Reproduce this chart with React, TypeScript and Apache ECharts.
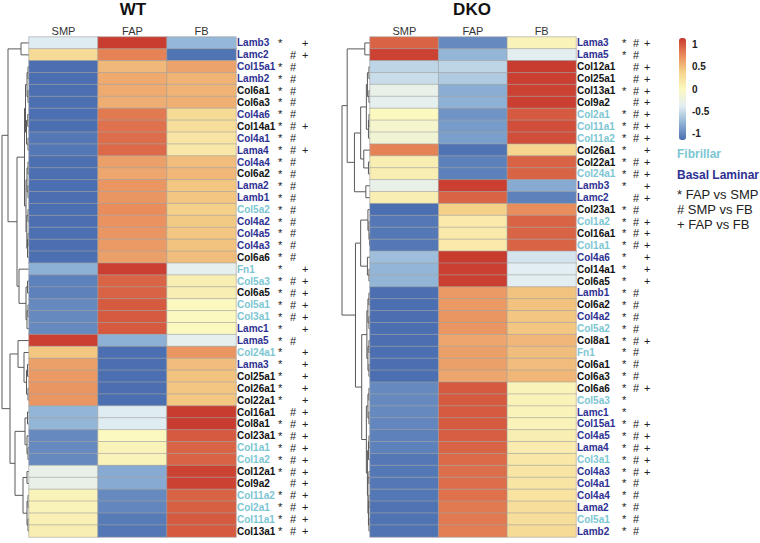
import React, { useEffect, useRef } from 'react';
import * as echarts from 'echarts';

const columns = ['SMP', 'FAP', 'FB'];

const wtGenes = ['Lamb3','Lamc2','Col15a1','Lamb2','Col6a1','Col6a3','Col4a6','Col14a1','Col4a1','Lama4','Col4a4','Col6a2','Lama2','Lamb1','Col5a2','Col4a2','Col4a5','Col4a3','Col6a6','Fn1','Col5a3','Col6a5','Col5a1','Col3a1','Lamc1','Lama5','Col24a1','Lama3','Col25a1','Col26a1','Col22a1','Col16a1','Col8a1','Col23a1','Col1a1','Col1a2','Col12a1','Col9a2','Col11a2','Col2a1','Col11a1','Col13a1'];
const wtSMP = [-0.40, 0.30, -1.15, -1.15, -1.15, -1.15, -1.15, -1.15, -1.10, -1.10, -1.15, -1.15, -1.15, -1.15, -1.15, -1.15, -1.15, -1.15, -1.15, -0.78, -1.05, -1.05, -1.00, -1.00, -1.00, 1.13, 0.45, 0.65, 0.68, 0.70, 0.70, -0.75, -0.75, -1.00, -1.00, -1.00, -0.30, -0.30, 0.05, 0.05, 0.08, 0.10];
const wtFAP = [1.14, 0.80, 0.52, 0.60, 0.60, 0.58, 0.85, 0.88, 0.90, 0.92, 0.65, 0.62, 0.70, 0.70, 0.75, 0.72, 0.70, 0.68, 0.65, 1.13, 0.95, 0.95, 1.00, 1.00, 1.00, -0.78, -1.15, -1.15, -1.15, -1.15, -1.15, -0.40, -0.40, 0.00, 0.05, 0.05, -0.82, -0.82, -1.00, -1.02, -1.08, -1.10];
const wtFB = [-0.74, -1.12, 0.63, 0.55, 0.55, 0.57, 0.30, 0.27, 0.20, 0.18, 0.50, 0.53, 0.45, 0.45, 0.40, 0.43, 0.45, 0.47, 0.50, -0.35, 0.10, 0.10, 0.00, 0.00, 0.00, -0.35, 0.70, 0.50, 0.47, 0.45, 0.45, 1.15, 1.15, 1.00, 0.95, 0.95, 1.12, 1.12, 0.95, 0.97, 1.00, 1.00];
const wtMarks = ['* +',' #+','*# ','*# ','*# ','*# ','*# ','*#+','*# ','*#+','*# ','*# ','*# ','*# ','*# ','*# ','*# ','*# ','*# ','* +','*#+','*#+','*#+','*#+','* +','*# ','* +','* +','* +','* +','* +',' #+','*#+','*#+','*#+','*#+','*#+',' #+','*#+','*#+','*#+','*#+'];

const dkoGenes = ['Lama3','Lama5','Col12a1','Col25a1','Col13a1','Col9a2','Col2a1','Col11a1','Col11a2','Col26a1','Col22a1','Col24a1','Lamb3','Lamc2','Col23a1','Col1a2','Col16a1','Col1a1','Col4a6','Col14a1','Col6a5','Lamb1','Col6a2','Col4a2','Col5a2','Col8a1','Fn1','Col6a1','Col6a3','Col6a6','Col5a3','Lamc1','Col15a1','Col4a5','Lama4','Col3a1','Col4a3','Col4a1','Col4a4','Lama2','Col5a1','Lamb2'];
const dkoSMP = [0.95, 1.12, -0.55, -0.50, -0.30, -0.35, 0.00, -0.10, -0.15, 0.80, 0.10, 0.10, -0.30, 0.10, -1.15, -1.10, -1.10, -1.10, -0.70, -0.75, -0.75, -1.15, -1.15, -1.15, -1.15, -1.15, -1.15, -1.15, -1.15, -1.00, -1.00, -1.00, -1.02, -1.05, -1.05, -1.10, -1.10, -1.10, -1.10, -1.12, -1.12, -1.12];
const dkoFAP = [-1.00, -0.75, -0.55, -0.62, -0.80, -0.78, -0.95, -0.90, -0.88, -1.12, -1.05, -1.05, 1.13, 0.95, 0.40, 0.15, 0.15, 0.15, 1.15, 1.13, 1.13, 0.68, 0.68, 0.70, 0.70, 0.62, 0.65, 0.65, 0.62, 1.00, 1.00, 1.00, 1.00, 0.98, 0.95, 0.92, 0.90, 0.90, 0.88, 0.85, 0.85, 0.83];
const dkoFB = [0.05, -0.37, 1.15, 1.13, 1.12, 1.13, 1.00, 1.05, 1.05, 0.35, 0.95, 0.95, -0.82, -1.05, 0.75, 0.95, 0.95, 0.95, -0.45, -0.38, -0.38, 0.47, 0.47, 0.45, 0.45, 0.53, 0.50, 0.50, 0.53, 0.05, 0.05, 0.05, 0.05, 0.10, 0.13, 0.18, 0.20, 0.20, 0.22, 0.27, 0.27, 0.30];
const dkoMarks = ['*#+','*# ',' #+',' #+','*#+',' #+','*#+','*#+','*#+','* +','*#+','*#+','* +',' #+','*# ','*#+','*#+','*#+','* +','* +','* +','*# ','*# ','*# ','*# ','*#+','*# ','*# ','*# ','*#+','*  ','*  ','*#+','*#+','*#+','*#+','*#+','*# ','*# ','*# ','*# ','*# '];

const fibrillarGenes = ['Col1a1','Col1a2','Col2a1','Col3a1','Col5a1','Col5a2','Col5a3','Col11a1','Col11a2','Col24a1','Fn1'];
const basalGenes = ['Lama2','Lama3','Lama4','Lama5','Lamb1','Lamb2','Lamb3','Lamc1','Lamc2','Col4a1','Col4a2','Col4a3','Col4a4','Col4a5','Col4a6','Col15a1'];

const legendTicks = [1, 0.5, 0, -0.5, -1];
const legendNotes = ['* FAP vs SMP', '# SMP vs FB', '+ FAP vs FB'];

type Node = number | [Node, Node, number];

const wtTree: Node = [
  [
    [0, 1, 8],
    [
      [
        [[[2, 3, 1], [4, 5, 1], 2], [[6, 7, 1.2], [8, 9, 1], 2.5], 3.5],
        [[[10, 11, 1], [12, 13, 1], 2], [[14, 15, 1], [[16, 17, 1], 18, 1.5], 2.2], 3],
        4.5,
      ],
      [19, [[20, 21, 1.5], [[22, 23, 1], 24, 2], 3], 10],
      12,
    ],
    21,
  ],
  [
    [25, [26, [[27, 28, 1.5], [29, 30, 1], 2.5], 5], 11],
    [
      [[31, 32, 1.5], [33, [34, 35, 1], 2], 4],
      [[36, 37, 2], [[38, 39, 1], [40, 41, 1], 2], 6],
      14,
    ],
    19,
  ],
  27,
];

const dkoTree: Node = [
  [
    [0, 1, 5],
    [
      [[[[2, 3, 1], [4, 5, 1], 2.5], [[6, 7, 1], 8, 1.5], 3.5], [9, [10, 11, 1.5], 6], 9],
      [12, 13, 4],
      15,
    ],
    22,
  ],
  [
    [[14, [15, [16, 17, 0.5], 1], 2], [18, [19, 20, 1], 2.5], 9],
    [
      [[[21, 22, 1], [23, 24, 1], 2], [[25, 26, 1], [27, 28, 1], 2], 3],
      [[[29, 30, 1], [31, 32, 1], 2], [[[33, 34, 1], 35, 1.5], [[36, 37, 1], [[38, 39, 1], [40, 41, 1], 1.5], 2], 2.5], 3.5],
      8,
    ],
    14,
  ],
  27,
];

function treeSegments(node: Node, out: number[][]): { y: number; h: number } {
  if (typeof node === 'number') return { y: node, h: 0 };
  const a = treeSegments(node[0], out);
  const b = treeSegments(node[1], out);
  const h = node[2];
  out.push([a.h, a.y, h, a.y]);
  out.push([b.h, b.y, h, b.y]);
  out.push([h, a.y, h, b.y]);
  return { y: (a.y + b.y) / 2, h };
}

const FONT = 'Liberation Sans, Arial, Helvetica, sans-serif';
const ZMAX = 1.1547;
const palette = ['#4a6eb0', '#8fb3d6', '#e2eef3', '#fbf8c0', '#f5d38a', '#e8895a', '#c83a2e'];

function heatData(smp: number[], fap: number[], fb: number[]) {
  const d: number[][] = [];
  smp.forEach((v, i) => d.push([0, i, v]));
  fap.forEach((v, i) => d.push([1, i, v]));
  fb.forEach((v, i) => d.push([2, i, v]));
  return d;
}

function labelFormatter(marks: string[]) {
  return (name: string, idx: number) => {
    const cls = fibrillarGenes.includes(name) ? 'f' : basalGenes.includes(name) ? 'b' : 'o';
    const m = marks[idx] || '   ';
    const s = (c: string) => (c === ' ' ? '\u00a0' : c);
    return `{${cls}|${name}}{m|${s(m[0])}}{m|${s(m[1])}}{m|${s(m[2])}}`;
  };
}

function richFor(nameWidth: number, markWidth: number) {
  const base = { fontFamily: FONT, fontSize: 10, fontWeight: 'bold' as const, width: nameWidth, align: 'left' as const };
  return {
    f: { ...base, color: '#7cc6d2' },
    b: { ...base, color: '#2e3192' },
    o: { ...base, color: '#111111' },
    m: { fontFamily: FONT, fontSize: 11, color: '#222222', width: markWidth, align: 'left' as const },
  };
}

export default function App() {
  const ref = useRef<HTMLDivElement>(null);
  useEffect(() => {
    if (!ref.current) return;
    const chart = echarts.init(ref.current, undefined, { renderer: 'svg' });
    const wtSegs: number[][] = [];
    treeSegments(wtTree, wtSegs);
    const dkoSegs: number[][] = [];
    treeSegments(dkoTree, dkoSegs);

    const HTOP = 37;
    const HH = 500;
    const grids = [
      { left: 2, top: HTOP, width: 27, height: HH },
      { left: 29, top: HTOP, width: 207, height: HH },
      { left: 342, top: HTOP, width: 28, height: HH },
      { left: 370, top: HTOP, width: 206, height: HH },
    ];
    const nRows = wtGenes.length;

    const dendroX = (gi: number) => ({
      type: 'value' as const, gridIndex: gi, min: 0, max: 27, inverse: true, show: false,
    });
    const dendroY = (gi: number) => ({
      type: 'value' as const, gridIndex: gi, min: -0.5, max: nRows - 0.5, inverse: true, show: false,
    });
    const heatX = (gi: number) => ({
      type: 'category' as const, gridIndex: gi, data: columns, position: 'top' as const,
      axisLine: { show: false }, axisTick: { show: false }, splitArea: { show: false },
      axisLabel: { fontFamily: FONT, fontSize: 11, color: '#333', margin: 1 },
    });
    const heatY = (gi: number, genes: string[], marks: string[], nw: number, mw: number) => ({
      type: 'category' as const, gridIndex: gi, data: genes, inverse: true, position: 'right' as const,
      axisLine: { show: false }, axisTick: { show: false }, splitArea: { show: false },
      axisLabel: { interval: 0, margin: 1, formatter: labelFormatter(marks), rich: richFor(nw, mw) },
    });

    const renderSeg = (params: any, api: any) => {
      const p1 = api.coord([api.value(0), api.value(1)]);
      const p2 = api.coord([api.value(2), api.value(3)]);
      return {
        type: 'line',
        shape: { x1: p1[0], y1: p1[1], x2: p2[0], y2: p2[1] },
        style: { stroke: '#5a5a5a', lineWidth: 1 },
      };
    };

    const barTop = 38;
    const barH = 102;
    const tickY = (v: number) => barTop + ((ZMAX - v) / (2 * ZMAX)) * barH;

    const graphics: any[] = [
      { type: 'text', x: 133, y: 9, style: { text: 'WT', font: `bold 17px ${FONT}`, fill: '#111', textAlign: 'center', textVerticalAlign: 'middle' } },
      { type: 'text', x: 472, y: 9, style: { text: 'DKO', font: `bold 17px ${FONT}`, fill: '#111', textAlign: 'center', textVerticalAlign: 'middle' } },
      ...legendTicks.map((v) => ({
        type: 'text', x: 692, y: tickY(v),
        style: { text: String(v), font: `bold 10px ${FONT}`, fill: '#222', textAlign: 'left', textVerticalAlign: 'middle' },
      })),
      { type: 'text', x: 677, y: 154, style: { text: 'Fibrillar', font: `bold 12px ${FONT}`, fill: '#7cc6d2', textVerticalAlign: 'middle' } },
      { type: 'text', x: 677, y: 175, style: { text: 'Basal Laminar', font: `bold 12px ${FONT}`, fill: '#2e3192', textVerticalAlign: 'middle' } },
      ...legendNotes.map((t, i) => ({
        type: 'text', x: 677, y: 194 + i * 15,
        style: { text: t, font: `13px ${FONT}`, fill: '#222', textVerticalAlign: 'middle' },
      })),
    ];

    chart.setOption({
      animation: false,
      backgroundColor: '#ffffff',
      grid: grids,
      xAxis: [dendroX(0), heatX(1), dendroX(2), heatX(3)],
      yAxis: [dendroY(0), heatY(1, wtGenes, wtMarks, 41, 12), dendroY(2), heatY(3, dkoGenes, dkoMarks, 45, 11)],
      visualMap: {
        type: 'continuous', min: -ZMAX, max: ZMAX, seriesIndex: [1, 3], calculable: false,
        left: 679, top: barTop, itemWidth: 7, itemHeight: barH, padding: 0, text: ['', ''],
        showLabel: false, hoverLink: false,
        inRange: { color: palette },
      },
      graphic: graphics,
      series: [
        { type: 'custom', xAxisIndex: 0, yAxisIndex: 0, data: wtSegs, renderItem: renderSeg, clip: false, silent: true },
        {
          type: 'heatmap', xAxisIndex: 1, yAxisIndex: 1, data: heatData(wtSMP, wtFAP, wtFB),
          itemStyle: { borderColor: '#a3a3a3', borderWidth: 0.6 },
        },
        { type: 'custom', xAxisIndex: 2, yAxisIndex: 2, data: dkoSegs, renderItem: renderSeg, clip: false, silent: true },
        {
          type: 'heatmap', xAxisIndex: 3, yAxisIndex: 3, data: heatData(dkoSMP, dkoFAP, dkoFB),
          itemStyle: { borderColor: '#a3a3a3', borderWidth: 0.6 },
        },
      ],
    });
    return () => chart.dispose();
  }, []);
  return <div ref={ref} style={{ position: 'absolute', left: 0, top: 0, width: 760, height: 543 }} />;
}
